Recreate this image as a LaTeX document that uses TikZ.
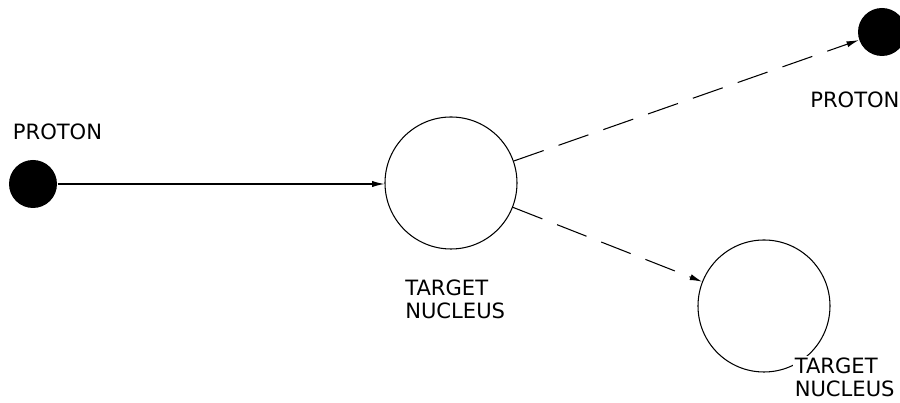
\documentclass[tikz,border=0pt]{standalone}
\usepackage{fontspec}
\setmainfont{DejaVu Sans}
\usetikzlibrary{arrows.meta}
\begin{document}
\begin{tikzpicture}[line width=0.6pt,
    proton/.style={circle, fill=black, minimum size=0.96cm, inner sep=0pt},
    nucleus/.style={circle, draw, minimum size=2.64cm, inner sep=0pt},
    lbl/.style={font=\fontsize{12}{13}\selectfont, align=left, inner sep=1pt},
    track/.style={-{Latex[length=7pt,width=3.5pt]}},
    scatter/.style={track, dash pattern=on 18pt off 9pt}]
        \useasboundingbox (0,0) rectangle (18,8.06);

        %incoming proton
        \node[proton] (p1) at (0.66,4.38) {};
        \node[lbl] (p1lbl) at (1.15,5.42) {PROTON};

        %target
        \node[nucleus] (t1) at (9.02,4.40) {};
        \node[lbl, anchor=west] (t1lbl) at (8.06,2.08) {TARGET\\NUCLEUS};

        %outgoing
        \node[proton] (p2) at (17.64,7.42) {};
        \node[lbl, anchor=west] (p2lbl) at (16.16,6.06) {PROTON};
        \node[nucleus] (t2) at (15.28,1.94) {};
        \node[lbl, anchor=west, fill=white] (t2lbl) at (15.85,0.52) {TARGET\\NUCLEUS};

        %tracks
        \draw[track] (p1) -- (p1 -| t1.west);
        \draw[scatter] (t1) -- (p2);
        \draw[scatter] (t1) -- (t2);
\end{tikzpicture}
\end{document}
